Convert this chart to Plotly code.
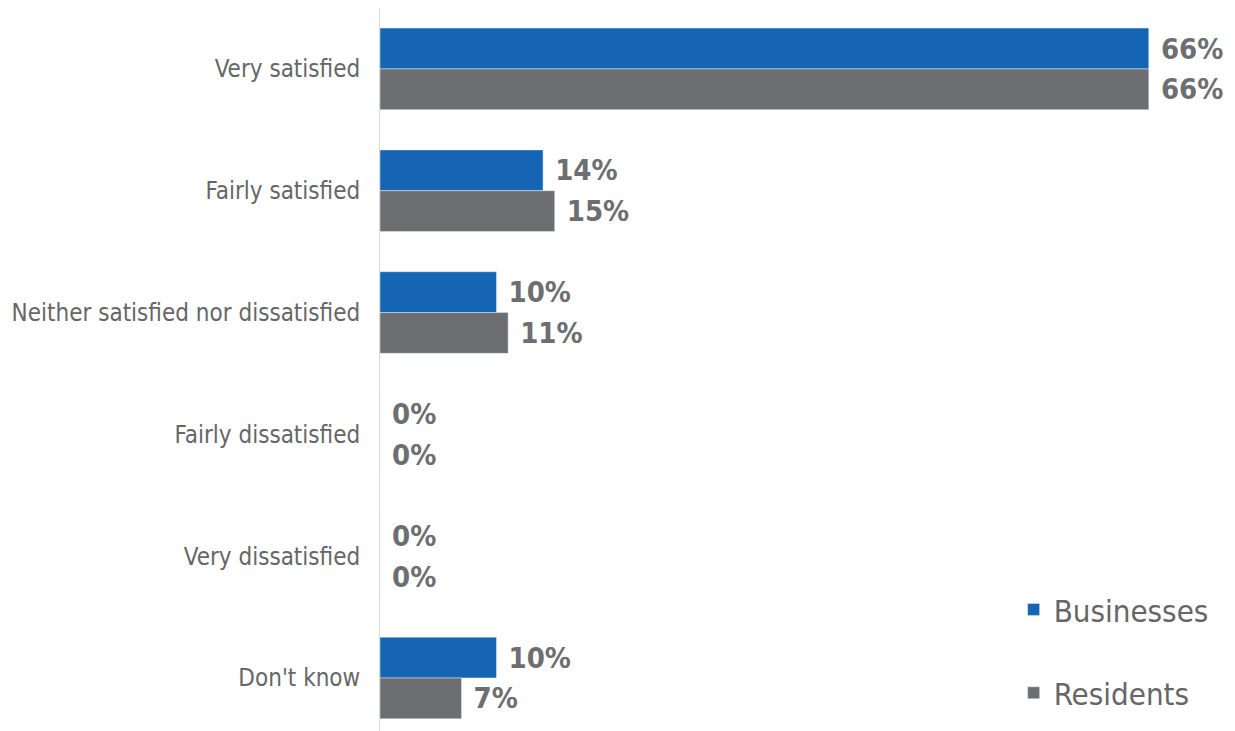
import plotly.graph_objects as go

categories = ["Very satisfied", "Fairly satisfied", "Neither satisfied nor dissatisfied",
              "Fairly dissatisfied", "Very dissatisfied", "Don't know"]
businesses = [66, 14, 10, 0, 0, 10]
residents = [66, 15, 11, 0, 0, 7]

BLUE = "#1565B4"
GRAY = "#6D6E71"
FONT = "DejaVu Sans Condensed, Liberation Sans Narrow, sans-serif"

fig = go.Figure()
fig.add_trace(go.Bar(
    y=categories, x=businesses, name="Businesses", orientation="h",
    marker=dict(color=BLUE), legendgroup="b",
    text=[f"\u00a0{v}%" for v in businesses], textposition="outside",
    textfont=dict(family=FONT, size=29, color=GRAY, weight="bold"),
    constraintext="none", cliponaxis=False,
))
fig.add_trace(go.Bar(
    y=categories, x=residents, name="Residents", orientation="h",
    marker=dict(color=GRAY), legendgroup="r",
    text=[f"\u00a0{v}%" for v in residents], textposition="outside",
    textfont=dict(family=FONT, size=29, color=GRAY, weight="bold"),
    constraintext="none", cliponaxis=False,
))

fig.update_layout(
    width=1235, height=731,
    margin=dict(l=380, r=0, t=8, b=0),
    paper_bgcolor="white", plot_bgcolor="white",
    barmode="group", bargap=0.33, bargroupgap=0,
    font=dict(family=FONT, color="#666666"),
    xaxis=dict(range=[0, 73.4], visible=False, showgrid=False, zeroline=False,
               automargin=False),
    yaxis=dict(categoryorder="array", categoryarray=categories,
               range=[5.435, -0.5], showgrid=False, zeroline=False,
               showline=True, linecolor="#D9D9D9", linewidth=1,
               ticks="", ticklabelstandoff=14, automargin=False,
               tickfont=dict(family=FONT, size=24, color="#666666")),
    legend=dict(x=0.975, y=0.205, xanchor="right", yanchor="top",
                traceorder="grouped", tracegroupgap=40,
                font=dict(family=FONT, size=31, color="#666666"),
                bgcolor="rgba(0,0,0,0)"),
)

fig.write_html("out.html")
